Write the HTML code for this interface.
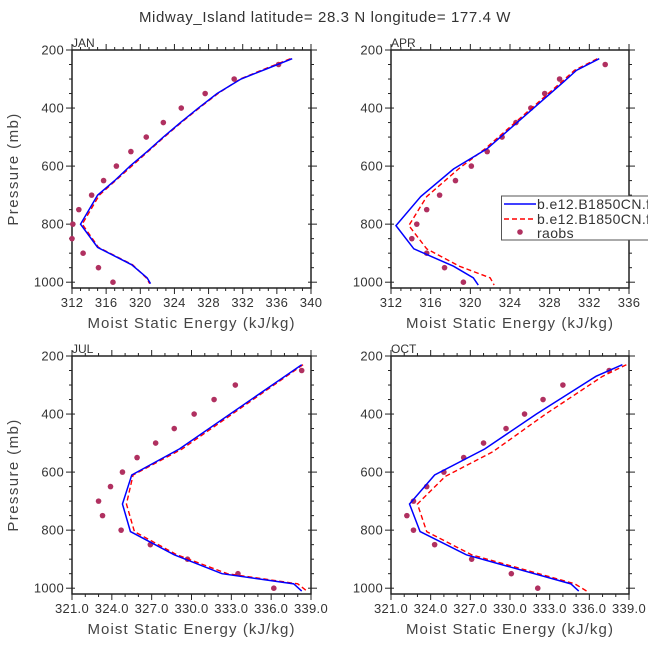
<!DOCTYPE html>
<html><head><meta charset="utf-8"><style>
body{margin:0;background:#fff;overflow:hidden;}
svg{display:block;font-family:"Liberation Sans","DejaVu Sans",sans-serif;}
</style></head><body>
<svg id="chart" width="648" height="649" viewBox="0 0 648 649">
<text x="325" y="22" text-anchor="middle" font-size="15" letter-spacing="0.6" fill="#333">Midway_Island  latitude= 28.3 N longitude= 177.4 W</text>
</svg>
<script>
// ---- data ----
const obsP = [250,300,350,400,450,500,550,600,650,700,750,800,850,900,950,1000];
const janObs = [336.2,331,327.6,324.8,322.7,320.7,318.9,317.2,315.7,314.3,312.8,312.1,312,313.3,315.1,316.8];
const aprObs = [333.6,329.0,327.5,326.1,324.6,323.2,321.7,320.1,318.5,316.9,315.6,314.6,314.1,315.6,317.4,319.3];
const julObs = [338.3,333.3,331.7,330.2,328.7,327.3,325.9,324.8,323.9,323.0,323.3,324.7,326.9,329.7,333.5,336.2];
const octObs = [337.5,334.0,332.5,331.1,329.7,328.0,326.5,325.0,323.7,322.7,322.2,322.7,324.3,327.1,330.1,332.1];

const janModP = [230,265,300,350,400,450,500,550,600,650,700,800,880,940,985,1005];
const janBlue = [337.8,334.8,331.8,329,326.8,324.7,322.7,320.8,318.8,317,315,313,315,319,320.8,321.2];
const janRed  = [337.6,334.6,331.7,329.1,326.9,324.8,322.8,320.9,319.0,317.1,315.2,313.2,315.1,319.1,320.7,321.1];

const aprBlueP = [230,270,310,540,610,705,805,885,945,985,1010];
const aprBlue  = [333.0,330.7,329.4,321.7,318.3,315.0,312.5,314.3,318.3,320.3,320.8];
const aprRedP  = [230,270,310,540,610,705,805,885,945,985,1010];
const aprRed   = [332.8,330.5,329.2,321.5,318.8,315.6,313.8,315.6,318.9,322.0,322.4];

const julBlueP = [230,520,610,710,805,885,950,985,1010];
const julBlue  = [338.3,329.1,325.5,324.8,325.4,328.7,332.3,337.7,338.3];
const julRedP  = [230,520,610,710,805,885,950,985,1010];
const julRed   = [338.4,329.3,325.6,325.1,325.7,328.9,332.7,338.0,338.7];

const octBlueP = [230,270,400,520,610,710,805,885,985,1010];
const octBlue  = [338.5,336.5,332.0,328.1,324.3,322.4,323.2,326.7,334.6,335.2];
const octRedP  = [230,270,400,530,615,710,805,885,985,1010];
const octRed   = [338.8,337.0,332.7,328.7,325.1,323.0,323.7,327.1,334.9,335.8];

const xTicksA = [312,316,320,324,328,332,336,340];
const xTicksB = [312,316,320,324,328,332,336];
const xTicksC = ["321.0","324.0","327.0","330.0","333.0","336.0","339.0"];
const yTicks = [200,400,600,800,1000];

const NS = "http://www.w3.org/2000/svg";
const svg = document.getElementById('chart');
function mk(tag, attrs, parent){
  const e = document.createElementNS(NS, tag);
  for (const k in attrs) e.setAttribute(k, attrs[k]);
  (parent||svg).appendChild(e); return e;
}
const AX = "#222";
function panel(cfg){
  const {L,R,T,B,xmin,xmax,ticks,minorStep,label,obs,blueP,blue,redP,red,name,yLabel} = cfg;
  const g = mk('g',{});
  
  
  const pmin=200,pmax=1020;
  const x = v => L + (v-xmin)/(xmax-xmin)*(R-L);
  const y = p => T + (p-pmin)/(pmax-pmin)*(B-T);
  for (let v=xmin; v<=xmax+1e-6; v+=minorStep){
    const isMaj = ticks.some(t=>Math.abs(parseFloat(t)-v)<1e-6);
    const len = isMaj?6:3;
    mk('line',{x1:x(v),x2:x(v),y1:B,y2:B+len,stroke:AX,'stroke-width':1},g);
    mk('line',{x1:x(v),x2:x(v),y1:T,y2:T-len,stroke:AX,'stroke-width':1},g);
  }
  for (let p=200; p<=1000; p+=50){
    const isMaj = p%200===0; const len = isMaj?6:3;
    mk('line',{x1:L-len,x2:L+(isMaj?3:0),y1:y(p),y2:y(p),stroke:AX,'stroke-width':1},g);
    mk('line',{x1:R-(isMaj?3:0),x2:R+len,y1:y(p),y2:y(p),stroke:AX,'stroke-width':1},g);
  }
  const fr = mk('rect',{x:L,y:T,width:R-L,height:B-T,fill:'none',stroke:AX,'stroke-width':1.5},g);
  
  
  ticks.forEach(t=>{
    const tx = mk('text',{x:x(parseFloat(t)),y:B+19,'text-anchor':'middle','font-size':13,'letter-spacing':0.3,fill:'#333'},g);
    tx.textContent = t;
    
    
  });
  yTicks.forEach(t=>{
    const tx = mk('text',{x:L-8,y:y(t)+4.5,'text-anchor':'end','font-size':13,'letter-spacing':0.3,fill:'#333'},g);
    tx.textContent = t;
    
    
  });
  const xt = mk('text',{x:(L+R)/2,y:B+40,'text-anchor':'middle','font-size':15,'letter-spacing':1.1,fill:'#444'},g);
  xt.textContent = 'Moist Static Energy (kJ/kg)';
  
  
  if (yLabel){
    const yt = mk('text',{x:0,y:0,'text-anchor':'middle','font-size':15,'letter-spacing':1.4,fill:'#444',transform:`translate(18,${(T+B)/2}) rotate(-90)`},g);
    yt.textContent = 'Pressure (mb)';
    
    
  }
  const lb = mk('text',{x:L,y:T-3,'font-size':12,fill:'#333'},g);
  lb.textContent = label;
  
  
  obs.forEach((v,i)=>{
    const c = mk('circle',{cx:x(v),cy:y(obsP[i]),r:2.8,fill:'#b03060'},g);
    
    
  });
  const rl = mk('polyline',{points:red.map((v,i)=>x(v)+','+y(redP[i])).join(' '),fill:'none',stroke:'#f00','stroke-width':1.4,'stroke-dasharray':'5,3'},g);
  
  
  const bl = mk('polyline',{points:blue.map((v,i)=>x(v)+','+y(blueP[i])).join(' '),fill:'none',stroke:'#00f','stroke-width':1.5},g);
  
  
}
panel({L:72,R:311,T:50,B:288,xmin:312,xmax:340,ticks:xTicksA.map(String),minorStep:1,label:'JAN',obs:janObs,blueP:janModP,blue:janBlue,redP:janModP,red:janRed,name:'jan',yLabel:true});
panel({L:391,R:629,T:50,B:288,xmin:312,xmax:336,ticks:xTicksB.map(String),minorStep:1,label:'APR',obs:aprObs,blueP:aprBlueP,blue:aprBlue,redP:aprRedP,red:aprRed,name:'apr',yLabel:false});
panel({L:72,R:311,T:356,B:594,xmin:321,xmax:339,ticks:xTicksC,minorStep:1,label:'JUL',obs:julObs,blueP:julBlueP,blue:julBlue,redP:julRedP,red:julRed,name:'jul',yLabel:true});
panel({L:391,R:629,T:356,B:594,xmin:321,xmax:339,ticks:xTicksC,minorStep:1,label:'OCT',obs:octObs,blueP:octBlueP,blue:octBlue,redP:octRedP,red:octRed,name:'oct',yLabel:false});

// legend
const lg = mk('g',{});


mk('rect',{x:501.5,y:196,width:160,height:44,fill:'#fff',stroke:'#555','stroke-width':1},lg);
mk('line',{x1:504,x2:536,y1:204,y2:204,stroke:'#00f','stroke-width':1.5},lg);
mk('line',{x1:504,x2:536,y1:219,y2:219,stroke:'#f00','stroke-width':1.4,'stroke-dasharray':'5,3'},lg);
mk('circle',{cx:520,cy:232,r:2.8,fill:'#b03060'},lg);
[['b.e12.B1850CN.f19',209,'legend-entry-blue'],['b.e12.B1850CN.f19',224,'legend-entry-red'],['raobs',238,'legend-entry-raobs']].forEach(e=>{
  const t = mk('text',{x:537,y:e[1],'font-size':14,'letter-spacing':0.4,fill:'#333'},lg);
  t.textContent = e[0];
  
  
});
</script>
</body></html>
